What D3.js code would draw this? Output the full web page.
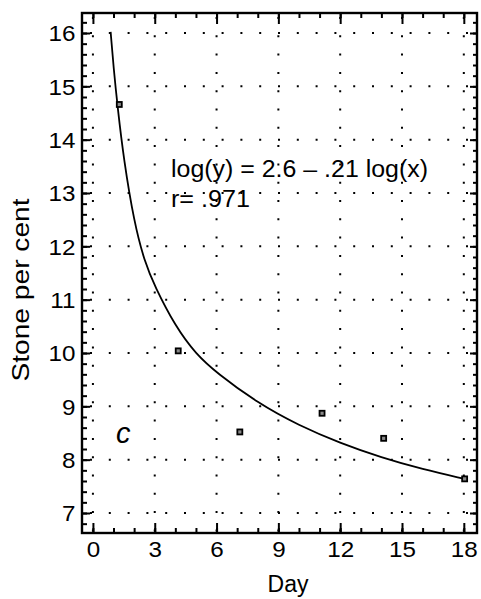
<!DOCTYPE html>
<html>
<head>
<meta charset="utf-8">
<script src="https://cdn.jsdelivr.net/npm/d3@7"></script>
<style>
  html, body { margin: 0; padding: 0; background: #fff; }
  svg { display: block; font-family: "Liberation Sans", Arial, Helvetica, sans-serif; }
</style>
</head>
<body>
<svg id="chart" width="481" height="599"></svg>
<script>
// ---- data ----
const pointDays = [1.28, 4.14, 7.13, 11.12, 14.11, 18.04];
const pointValues = [14.66, 10.04, 8.52, 8.87, 8.40, 7.64];

// fitted curve
const curveDays = [0.86, 1.0, 1.2, 1.5, 2.0, 2.5, 3.0, 4.0, 5.0, 6.0, 8.0, 10.0, 12.0, 14.0, 16.0, 18.04];
const curveValues = [16.02, 15.36, 14.6, 13.62, 12.45, 11.72, 11.25, 10.5, 9.98, 9.63, 9.06, 8.64, 8.31, 8.04, 7.82, 7.64];

const xTickValues = [0, 3, 6, 9, 12, 15, 18];
const xMinorTicks = [0, 1, 2, 3, 4, 5, 6, 7, 8, 9, 10, 11, 12, 13, 14, 15, 16, 17, 18];
const yTickValues = [7, 8, 9, 10, 11, 12, 13, 14, 15, 16];
const yMinorTicks = d3.range(34, 82).map(d => d / 5);

const equationText = "log(y) = 2.6 \u2013 .21 log(x)";
const rText = "r= .971";
const panelLabel = "c";
const xTitle = "Day";
const yTitle = "Stone per cent";

// ---- layout ----
const margin = {left: 82, right: 4, top: 13, bottom: 66};
const W = 481, H = 599;
const iw = W - margin.left - margin.right;
const ih = H - margin.top - margin.bottom;

const svg = d3.select("#chart");
const g = svg.append("g").attr("transform", `translate(${margin.left},${margin.top})`);

const x = d3.scaleLinear().domain([-0.53, 18.64]).range([0, iw]);
const y = d3.scaleLinear().domain([6.625, 16.375]).range([ih, 0]);

// dotted grid
g.append("g").selectAll("line.h").data(yTickValues).join("line")
  .attr("x1", 0).attr("x2", iw)
  .attr("y1", d => y(d)).attr("y2", d => y(d))
  .attr("stroke", "#000").attr("stroke-width", 2)
  .attr("stroke-dasharray", "2,16.8").attr("stroke-dashoffset", -8);
g.append("g").selectAll("line.v").data(xTickValues).join("line")
  .attr("x1", d => x(d)).attr("x2", d => x(d))
  .attr("y1", 0).attr("y2", ih)
  .attr("stroke", "#000").attr("stroke-width", 2)
  .attr("stroke-dasharray", "2,16.3").attr("stroke-dashoffset", -4);

// axes
function styleAxis(sel) {
  sel.select(".domain").remove();
  sel.selectAll(".tick line").attr("stroke", "#000").attr("stroke-width", 2);
  sel.selectAll("text").attr("font-size", 22).attr("fill", "#000");
}

const leftMinor = g.append("g").call(d3.axisLeft(y).tickValues(yMinorTicks).tickSize(-5).tickFormat(""));
styleAxis(leftMinor);
const leftMajor = g.append("g").call(d3.axisLeft(y).tickValues(yTickValues).tickSize(-8).tickPadding(6).tickFormat(d3.format("d")));
styleAxis(leftMajor);
leftMajor.selectAll("text").attr("transform", "scale(1.1,1)").attr("dy", "0.36em");

const rightMinor = g.append("g").attr("transform", `translate(${iw},0)`)
  .call(d3.axisRight(y).tickValues(yMinorTicks).tickSize(-4).tickFormat(""));
styleAxis(rightMinor);
const rightMajor = g.append("g").attr("transform", `translate(${iw},0)`)
  .call(d3.axisRight(y).tickValues(yTickValues).tickSize(-7).tickFormat(""));
styleAxis(rightMajor);

const topMinor = g.append("g").call(d3.axisTop(x).tickValues(xMinorTicks).tickSize(-5).tickFormat(""));
styleAxis(topMinor);
const topMajor = g.append("g").call(d3.axisTop(x).tickValues(xTickValues).tickSize(-11).tickFormat(""));
styleAxis(topMajor);

const botMinor = g.append("g").attr("transform", `translate(0,${ih})`)
  .call(d3.axisBottom(x).tickValues(xMinorTicks).tickSize(-5).tickFormat(""));
styleAxis(botMinor);
const botMajor = g.append("g").attr("transform", `translate(0,${ih})`)
  .call(d3.axisBottom(x).tickValues(xTickValues).tickSize(-10).tickPadding(8).tickFormat(d3.format("d")));
styleAxis(botMajor);
botMajor.selectAll("text").attr("transform", "scale(1.1,1)");

// frame
g.append("rect").attr("x", 0).attr("y", 0).attr("width", iw).attr("height", ih)
  .attr("fill", "none").attr("stroke", "#000").attr("stroke-width", 2.4);

// fitted curve
const curveData = curveDays.map((d, i) => [d, curveValues[i]]);
g.append("path").datum(curveData)
  .attr("fill", "none").attr("stroke", "#000").attr("stroke-width", 1.8)
  .attr("d", d3.line().x(d => x(d[0])).y(d => y(d[1])).curve(d3.curveBasis));

// points
const pts = pointDays.map((d, i) => [d, pointValues[i]]);
g.append("g").selectAll("rect").data(pts).join("rect")
  .attr("x", d => x(d[0]) - 2.5).attr("y", d => y(d[1]) - 2.5)
  .attr("width", 5).attr("height", 5)
  .attr("fill", "#888").attr("stroke", "#000").attr("stroke-width", 1.8);

// annotations
svg.append("text").attr("x", 171).attr("y", 177)
  .attr("font-size", 23).attr("textLength", 257).attr("lengthAdjust", "spacingAndGlyphs")
  .text(equationText);
svg.append("text").attr("x", 171).attr("y", 207)
  .attr("font-size", 23).attr("textLength", 79).attr("lengthAdjust", "spacingAndGlyphs")
  .text(rText);
svg.append("text").attr("x", 116).attr("y", 443)
  .attr("font-size", 29).attr("font-style", "italic")
  .text(panelLabel);

// axis titles
svg.append("text").attr("x", 288).attr("y", 592)
  .attr("text-anchor", "middle").attr("font-size", 23)
  .text(xTitle);
svg.append("text").attr("transform", "translate(29,290) rotate(-90)")
  .attr("text-anchor", "middle").attr("font-size", 23)
  .attr("textLength", 183).attr("lengthAdjust", "spacingAndGlyphs")
  .text(yTitle);
</script>
</body>
</html>
